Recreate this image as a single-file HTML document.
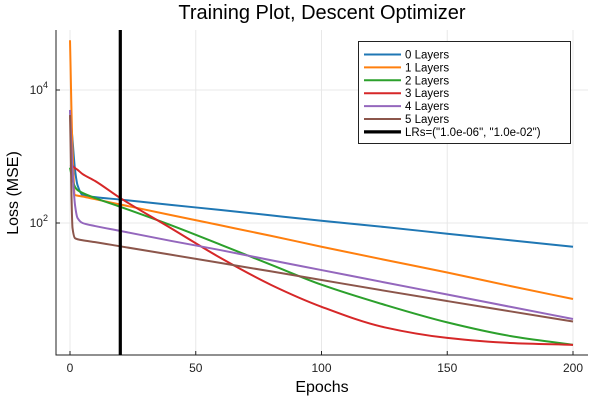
<!DOCTYPE html>
<html><head><meta charset="utf-8"><style>
body{margin:0;background:#fff}
svg{display:block;font-family:"Liberation Sans","DejaVu Sans",sans-serif}
</style></head><body>
<svg id="chart" width="600" height="400" viewBox="0 0 600 400">
<text x="322" y="19" font-size="20" text-anchor="middle" fill="#000">Training Plot, Descent Optimizer</text>
<g id="grid"></g><g id="axes"></g><g id="series"></g><g id="legend"></g>
<text x="322" y="392" font-size="16" text-anchor="middle">Epochs</text>
<text transform="translate(18,193) rotate(-90)" font-size="16" text-anchor="middle">Loss (MSE)</text>
</svg>
<script>
const epochs=[0,1,2,3,5,10,20,40,60,80,100,125,150,175,200];
const layers0=[5000,1780,630,370,263,245,225,187,157,130,108,87,69,55,44];
const layers1=[56000,1260,263,258,250,228,190,132,92,64,44,28,18,11.3,7.2];
const layers2=[680,445,350,313,283,237,175,93,47,23.5,11.8,5.9,3.2,2.0,1.47];
const layers3=[740,720,670,630,545,428,237,84,29.6,11.7,5.5,2.7,1.87,1.57,1.47];
const layers4=[5000,630,186,119,100,90,76,54,39,27.5,19.6,12.8,8.4,5.5,3.6];
const layers5=[4200,84,59,57,55,51.6,44.6,33.4,25,18.7,13.9,9.6,6.7,4.7,3.3];
const seriesNames=["0 Layers","1 Layers","2 Layers","3 Layers","4 Layers","5 Layers"];
const lrEpoch=20;
const xTicks=[0,50,100,150,200];
const yTicks=[2,4];
const colors=["#1f77b4","#ff7f0e","#2ca02c","#d62728","#9467bd","#8c564b"];
const all=[layers0,layers1,layers2,layers3,layers4,layers5];
const L=56,R=588,T=30,B=355;
const X=e=>70+e*(573-70)/200;
const Y=v=>223-(Math.log10(v)-2)*66.5;
const NS="http://www.w3.org/2000/svg";
function mk(tag,parent,attrs){const el=document.createElementNS(NS,tag);for(const k in attrs)el.setAttribute(k,attrs[k]);document.getElementById(parent).appendChild(el);return el;}
function monoPath(xs,ys){
  const n=xs.length,d=[],m=[];
  for(let i=0;i<n-1;i++)d.push((ys[i+1]-ys[i])/(xs[i+1]-xs[i]));
  m[0]=d[0];m[n-1]=d[n-2];
  for(let i=1;i<n-1;i++){m[i]=(d[i-1]*d[i]<=0)?0:2/(1/d[i-1]+1/d[i]);}
  let p=`M${xs[0]},${ys[0]}`;
  for(let i=0;i<n-1;i++){const h=xs[i+1]-xs[i];
    p+=`C${xs[i]+h/3},${ys[i]+m[i]*h/3} ${xs[i+1]-h/3},${ys[i+1]-m[i+1]*h/3} ${xs[i+1]},${ys[i+1]}`;}
  return p;
}
xTicks.forEach(t=>{
  const g=mk('line','grid',{x1:X(t),x2:X(t),y1:T,y2:B,stroke:'#e8e8e8','stroke-width':1});
  
  
  const tx=mk('text','axes',{x:X(t),y:B+17,'font-size':12,'text-anchor':'middle',fill:'#222'});
  tx.textContent=t;
  
  
  mk('line','axes',{x1:X(t),x2:X(t),y1:B,y2:B-4,stroke:'#222'});
});
yTicks.forEach(t=>{
  const y=Y(Math.pow(10,t));
  const g=mk('line','grid',{x1:L,x2:R,y1:y,y2:y,stroke:'#e8e8e8','stroke-width':1});
  
  
  const tx=mk('text','axes',{x:L-8,y:y+4,'font-size':12,'text-anchor':'end',fill:'#222'});
  tx.innerHTML='10<tspan dy="-6" font-size="9">'+t+'</tspan>';
  
  
  mk('line','axes',{x1:L,x2:L+4,y1:y,y2:y,stroke:'#222'});
});
const ax=mk('path','axes',{d:`M${L},${T}V${B}H${R}`,fill:'none',stroke:'#222','stroke-width':1});


all.forEach((s,i)=>{
  const p=mk('path','series',{d:monoPath(epochs.map(X),s.map(Y)),fill:'none',stroke:colors[i],'stroke-width':2,'stroke-linejoin':'round'});
  
  
});
const vl=mk('line','series',{x1:X(lrEpoch),x2:X(lrEpoch),y1:T,y2:B,stroke:'#000','stroke-width':3.2});


const box=mk('rect','legend',{x:358.5,y:41.5,width:212,height:102,fill:'#fff',stroke:'#222','stroke-width':1});


const labels=seriesNames.concat(['LRs=("1.0e-06", "1.0e-02")']);
labels.forEach((lab,i)=>{
  const y=54.5+i*12.9;
  mk('line','legend',{x1:364,x2:401,y1:y,y2:y,stroke:i<6?colors[i]:'#000','stroke-width':i<6?2:3.2});
  const t=mk('text','legend',{x:405,y:y+4,'font-size':11.5,fill:'#000'});
  t.textContent=lab;
  
  
});
</script>
</body></html>
